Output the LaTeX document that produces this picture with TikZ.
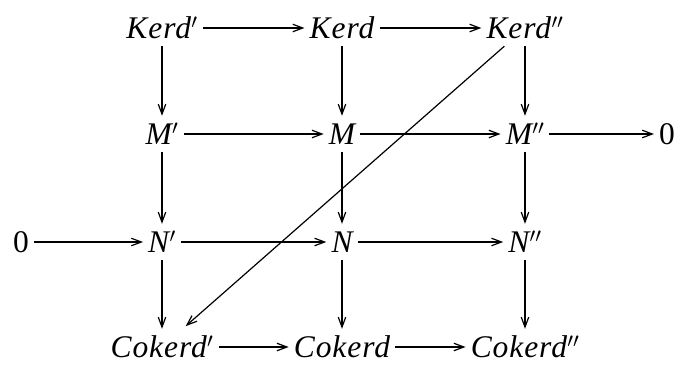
\documentclass[tikz,border=0pt]{standalone}
\usepackage{fontspec}
\setmainfont{Liberation Serif}[ItalicFeatures={LetterSpace=3}]
\usetikzlibrary{arrows.meta}
\newcommand\pr{\kern0.01em$'$}
\newcommand\ppr{\kern0.01em$''$}
\begin{document}
\begin{tikzpicture}[x=1pt,y=-1pt,
  obj/.style={anchor=base, inner xsep=5pt, inner ysep=8pt, text height=20pt, text depth=0pt,
    font=\fontsize{31.5}{36}\selectfont\itshape},
  num/.style={obj, font=\fontsize{31.5}{36}\selectfont\upshape},
  arr/.style={-{Straight Barb[length=10pt,width=7.5pt]}, line width=1.2pt}]
\useasboundingbox (0,0) rectangle (682,367);
% row 1
\node[obj] (kp)  at (162,38) {Kerd\pr};
\node[obj] (k)   at (342,38) {Kerd};
\node[obj] (kpp) at (525,38) {Kerd\ppr};
% row 2
\node[obj] (mp)  at (162,144) {M\pr};
\node[obj] (m)   at (342,144) {M};
\node[obj] (mpp) at (525,144) {M\ppr};
\node[num] (z1)  at (667,144) {0};
% row 3
\node[num] (z0)  at (21,252) {0};
\node[obj] (np)  at (162,252) {N\pr};
\node[obj] (n)   at (342,252) {N};
\node[obj] (npp) at (525,252) {N\ppr};
% row 4
\node[obj] (cp)  at (162,357) {Cokerd\pr};
\node[obj] (c)   at (342,357) {Cokerd};
\node[obj] (cpp) at (525,357) {Cokerd\ppr};
% horizontal
\draw[arr] (kp) -- (k);
\draw[arr] (k) -- (kpp);
\draw[arr] (mp) -- (m);
\draw[arr] (m) -- (mpp);
\draw[arr] (mpp) -- (z1);
\draw[arr] (z0) -- (np);
\draw[arr] (np) -- (n);
\draw[arr] (n) -- (npp);
\draw[arr] (cp) -- (c);
\draw[arr] (c) -- (cpp);
% vertical
\draw[arr] (kp) -- (mp);
\draw[arr] (mp) -- (np);
\draw[arr] (np) -- (cp);
\draw[arr] (k) -- (m);
\draw[arr] (m) -- (n);
\draw[arr] (n) -- (c);
\draw[arr] (kpp) -- (mpp);
\draw[arr] (mpp) -- (npp);
\draw[arr] (npp) -- (cpp);
% diagonal
\draw[arr, shorten >=4pt] (kpp) -- (cp);
\end{tikzpicture}
\end{document}
